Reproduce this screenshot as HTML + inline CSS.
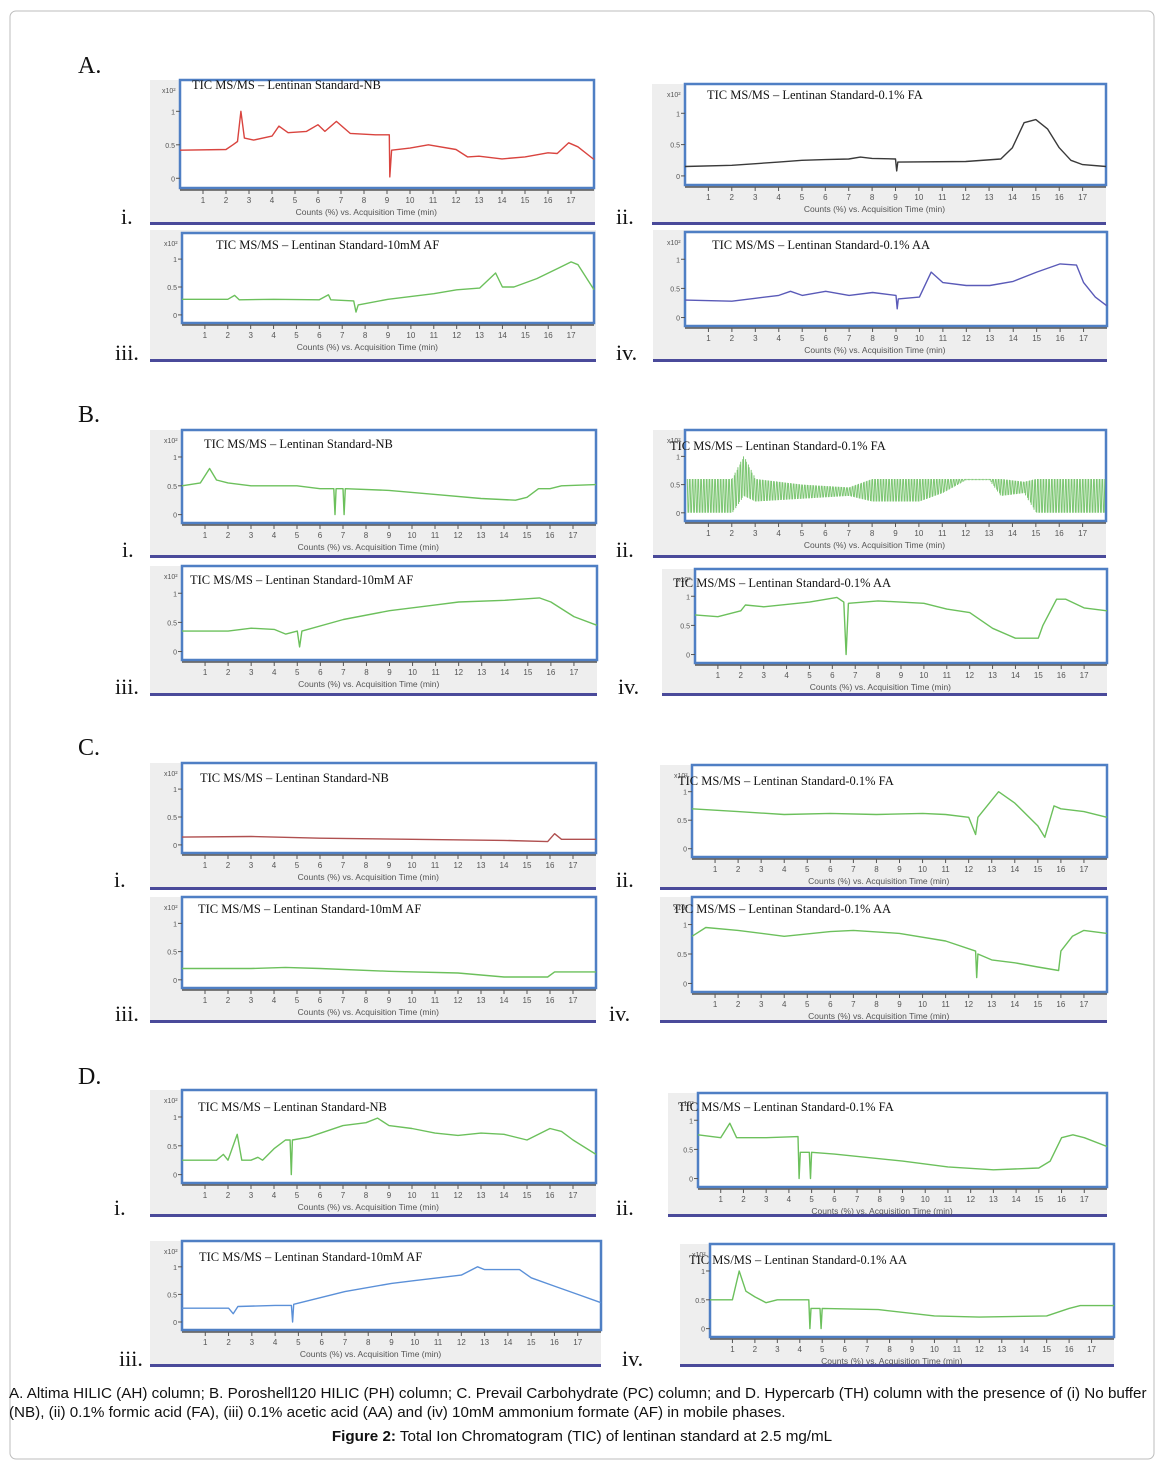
<!DOCTYPE html>
<html><head><meta charset="utf-8">
<style>
body{margin:0;background:#fff;width:1163px;height:1467px;overflow:hidden;font-family:"Liberation Sans",sans-serif}
#fig{position:absolute;left:0;top:0}
</style></head>
<body>
<svg id="fig" width="1163" height="1467">
<rect x="10" y="11" width="1144" height="1448" rx="6" fill="#fff" stroke="#bdbdbd"/>
<g font-family="Liberation Serif, serif" font-size="24" fill="#111">
<text x="78" y="73">A.</text>
<text x="78" y="422">B.</text>
<text x="78" y="755">C.</text>
<text x="78" y="1084">D.</text>
</g>
<g id="panels"></g>
<g font-family="Liberation Sans, sans-serif" font-size="15.2" fill="#111">
<text x="9" y="1398">A. Altima HILIC (AH) column; B. Poroshell120 HILIC (PH) column; C. Prevail Carbohydrate (PC) column; and D. Hypercarb (TH) column with the presence of (i) No buffer</text>
<text x="9" y="1417">(NB), (ii) 0.1% formic acid (FA), (iii) 0.1% acetic acid (AA) and (iv) 10mM ammonium formate (AF) in mobile phases.</text>
<text x="582" y="1441" text-anchor="middle"><tspan font-weight="bold">Figure 2:</tspan> Total Ion Chromatogram (TIC) of lentinan standard at 2.5 mg/mL</text>
</g>
</svg>
<script>
// ---- data: retention time (min) and relative counts (x10^2) ----
const a1T=[0,2,2.3,2.5,2.65,2.8,3.2,4,4.3,4.7,5.5,6,6.3,6.8,7.4,8.5,9.1,9.12,9.2,10,10.8,12,12.5,13,14,15,16,16.4,16.9,17.3,18];
const a1V=[0.42,0.43,0.5,0.55,1.0,0.6,0.57,0.63,0.78,0.68,0.7,0.8,0.7,0.85,0.67,0.65,0.65,0.02,0.42,0.45,0.5,0.43,0.32,0.33,0.29,0.32,0.38,0.37,0.53,0.47,0.28];
const a2T=[0,2,4,5,6,7,7.5,8,9,9.05,9.1,12,13.5,14,14.5,15,15.5,16,16.5,17,18];
const a2V=[0.15,0.17,0.22,0.25,0.26,0.27,0.3,0.28,0.27,0.08,0.22,0.23,0.27,0.45,0.85,0.9,0.75,0.45,0.25,0.18,0.15];
const a3T=[0,2,2.3,2.5,4,6,6.4,6.5,7.5,7.6,7.7,9,11,12,13,13.7,14,14.5,15.5,16.5,17,17.3,18];
const a3V=[0.28,0.28,0.35,0.27,0.28,0.27,0.36,0.27,0.25,0.05,0.18,0.28,0.38,0.45,0.48,0.75,0.5,0.5,0.65,0.85,0.95,0.9,0.45];
const a4T=[0,2,3,4,4.5,5,6,7,8,9,9.05,9.1,10,10.5,11,12,13,14,15,16,16.7,17,17.5,18];
const a4V=[0.3,0.28,0.33,0.38,0.45,0.38,0.45,0.38,0.43,0.38,0.15,0.32,0.35,0.78,0.6,0.55,0.55,0.62,0.78,0.92,0.9,0.6,0.35,0.2];
const b1T=[0,0.8,1.2,1.5,2,3,5,6,6.6,6.65,6.7,7,7.05,7.1,9,11,13,14.5,15,15.5,16,16.5,18];
const b1V=[0.5,0.55,0.8,0.6,0.55,0.5,0.5,0.45,0.45,0,0.45,0.45,0,0.45,0.42,0.35,0.28,0.25,0.3,0.45,0.45,0.5,0.52];
const b2T=[0,2,2.5,3,5,7,8,10,11,12,13,13.5,14.5,15,18];
const b2Lo=[0,0,0.3,0.2,0.25,0.3,0.2,0.2,0.35,0.58,0.58,0.3,0.35,0,0];
const b2Hi=[0.6,0.6,1.0,0.6,0.5,0.45,0.6,0.6,0.6,0.6,0.6,0.6,0.55,0.6,0.6];
const b3T=[0,2,3,4,4.5,5,5.1,5.2,7,9,11,12,14,15.5,16,17,18];
const b3V=[0.35,0.35,0.4,0.38,0.3,0.35,0.08,0.35,0.55,0.7,0.8,0.85,0.88,0.92,0.85,0.6,0.45];
const b4T=[0,1,2,2.2,3,5,6.2,6.5,6.6,6.7,8,10,11,12,13,14,15,15.2,15.8,16.2,17,18];
const b4V=[0.68,0.65,0.75,0.85,0.82,0.9,0.98,0.9,0,0.88,0.92,0.88,0.78,0.72,0.45,0.28,0.28,0.5,0.95,0.95,0.8,0.75];
const c1T=[0,3,6,10,14,15.9,16.2,16.5,18];
const c1V=[0.14,0.15,0.12,0.1,0.08,0.06,0.2,0.1,0.1];
const c2T=[0,2,4,6,8,10,11,12,12.3,12.4,13,13.3,14,15,15.3,15.7,16,17,18];
const c2V=[0.7,0.65,0.6,0.62,0.6,0.62,0.6,0.55,0.25,0.55,0.85,1.0,0.8,0.4,0.2,0.75,0.7,0.65,0.55];
const c3T=[0,3,4.5,6,9,12,14,15.9,16.2,18];
const c3V=[0.2,0.2,0.22,0.2,0.15,0.12,0.05,0.05,0.14,0.14];
const c4T=[0,0.6,2,4,6,7,9,11,12.3,12.35,12.4,13,14,15,15.9,16,16.5,17,18];
const c4V=[0.8,0.95,0.9,0.8,0.88,0.9,0.85,0.72,0.55,0.1,0.5,0.4,0.35,0.28,0.22,0.55,0.8,0.9,0.85];
const d1T=[0,1.5,1.8,2,2.4,2.6,3,3.3,3.5,4,4.5,4.7,4.75,4.8,5.5,7,8,8.5,9,10,11,12,13,14,15,16,16.5,17,18];
const d1V=[0.25,0.25,0.35,0.25,0.7,0.25,0.25,0.3,0.25,0.45,0.6,0.6,0,0.6,0.65,0.85,0.9,0.98,0.85,0.8,0.72,0.68,0.72,0.7,0.6,0.8,0.75,0.6,0.35];
const d2T=[0,1,1.4,1.7,3,4.4,4.45,4.5,4.9,4.95,5,6,9,11,13,15,15.5,16,16.5,17,18];
const d2V=[0.75,0.7,0.95,0.7,0.7,0.72,0,0.45,0.45,0,0.45,0.42,0.3,0.2,0.15,0.18,0.3,0.7,0.75,0.7,0.55];
const d3T=[0,2,2.2,2.4,4,4.7,4.75,4.8,7,9,10,11,12,12.7,13,14.5,15,16,17,18];
const d3V=[0.25,0.25,0.15,0.28,0.3,0.3,0,0.32,0.55,0.7,0.75,0.8,0.85,1.0,0.95,0.95,0.8,0.65,0.5,0.35];
const d4T=[0,1,1.3,1.6,2,2.5,3,4.4,4.45,4.5,4.9,4.95,5,7.5,10,12,15,16,16.5,18];
const d4V=[0.5,0.5,1.0,0.65,0.55,0.45,0.5,0.5,0,0.35,0.35,0,0.35,0.33,0.22,0.2,0.22,0.35,0.4,0.4];
const xTicks=[1,2,3,4,5,6,7,8,9,10,11,12,13,14,15,16,17];
const yTicks=[0,0.5,1];
const yTickLabels=["0","0.5","1"];

const panels=[
 {id:'a-i',o:[150,80,445,145],f:[180,80,414,108],c:'#d9443f',t:'TIC MS/MS \u2013 Lentinan Standard-NB',tx:192,ty:89,lab:'i.',lx:121,ly:224,T:a1T,V:a1V},
 {id:'a-ii',o:[652,84,454,141],f:[685,84,421,101],c:'#3a3a3a',t:'TIC MS/MS \u2013 Lentinan Standard-0.1% FA',tx:707,ty:99,lab:'ii.',lx:616,ly:224,T:a2T,V:a2V},
 {id:'a-iii',o:[150,230,446,132],f:[182,233,412,90],c:'#6cc05c',t:'TIC MS/MS \u2013 Lentinan Standard-10mM AF',tx:216,ty:249,lab:'iii.',lx:115,ly:360,T:a3T,V:a3V},
 {id:'a-iv',o:[653,230,454,132],f:[685,232,422,94],c:'#5a5ab8',t:'TIC MS/MS \u2013 Lentinan Standard-0.1% AA',tx:712,ty:249,lab:'iv.',lx:616,ly:360,T:a4T,V:a4V},
 {id:'b-i',o:[150,430,446,128],f:[182,430,414,93],c:'#6cc05c',t:'TIC MS/MS \u2013 Lentinan Standard-NB',tx:204,ty:448,lab:'i.',lx:122,ly:557,T:b1T,V:b1V},
 {id:'b-ii',o:[653,430,453,128],f:[685,430,421,91],c:'#5cb850',t:'TIC MS/MS \u2013 Lentinan Standard-0.1% FA',tx:670,ty:450,lab:'ii.',lx:616,ly:557,T:b2T,V:null},
 {id:'b-iii',o:[150,566,447,130],f:[182,566,415,94],c:'#6cc05c',t:'TIC MS/MS \u2013 Lentinan Standard-10mM AF',tx:190,ty:584,lab:'iii.',lx:115,ly:694,T:b3T,V:b3V},
 {id:'b-iv',o:[662,569,445,127],f:[695,569,412,94],c:'#6cc05c',t:'TIC MS/MS \u2013 Lentinan Standard-0.1% AA',tx:673,ty:587,lab:'iv.',lx:618,ly:694,T:b4T,V:b4V},
 {id:'c-i',o:[150,763,446,127],f:[182,763,414,90],c:'#b05050',t:'TIC MS/MS \u2013 Lentinan Standard-NB',tx:200,ty:782,lab:'i.',lx:114,ly:887,T:c1T,V:c1V},
 {id:'c-ii',o:[660,765,447,125],f:[692,765,415,92],c:'#6cc05c',t:'TIC MS/MS \u2013 Lentinan Standard-0.1% FA',tx:678,ty:785,lab:'ii.',lx:616,ly:887,T:c2T,V:c2V},
 {id:'c-iii',o:[150,897,446,126],f:[182,897,414,91],c:'#6cc05c',t:'TIC MS/MS \u2013 Lentinan Standard-10mM AF',tx:198,ty:913,lab:'iii.',lx:115,ly:1021,T:c3T,V:c3V},
 {id:'c-iv',o:[660,897,447,126],f:[692,897,415,95],c:'#6cc05c',t:'TIC MS/MS \u2013 Lentinan Standard-0.1% AA',tx:673,ty:913,lab:'iv.',lx:609,ly:1021,T:c4T,V:c4V},
 {id:'d-i',o:[150,1090,446,127],f:[182,1090,414,93],c:'#6cc05c',t:'TIC MS/MS \u2013 Lentinan Standard-NB',tx:198,ty:1111,lab:'i.',lx:114,ly:1215,T:d1T,V:d1V},
 {id:'d-ii',o:[668,1093,439,124],f:[698,1093,409,94],c:'#6cc05c',t:'TIC MS/MS \u2013 Lentinan Standard-0.1% FA',tx:678,ty:1111,lab:'ii.',lx:616,ly:1215,T:d2T,V:d2V},
 {id:'d-iii',o:[150,1241,451,126],f:[182,1241,419,89],c:'#5b90d8',t:'TIC MS/MS \u2013 Lentinan Standard-10mM AF',tx:199,ty:1261,lab:'iii.',lx:119,ly:1366,T:d3T,V:d3V},
 {id:'d-iv',o:[680,1244,434,123],f:[710,1244,404,93],c:'#6cc05c',t:'TIC MS/MS \u2013 Lentinan Standard-0.1% AA',tx:689,ty:1264,lab:'iv.',lx:622,ly:1366,T:d4T,V:d4V}
];
const NS='http://www.w3.org/2000/svg';
const root=document.getElementById('panels');
function mk(tag,attrs,parent){const e=document.createElementNS(NS,tag);for(const k in attrs)e.setAttribute(k,attrs[k]);parent.appendChild(e);return e;}
function interp(T,V,t){for(let i=1;i<T.length;i++){if(t<=T[i]){const r=(t-T[i-1])/(T[i]-T[i-1]);return V[i-1]+r*(V[i]-V[i-1]);}}return V[V.length-1];}
panels.forEach(p=>{
 const g=mk('g',{},root);
 
 
 const [ox,oy,ow,oh]=p.o,[fx,fy,fw,fh]=p.f;
 const bg=mk('rect',{x:ox,y:oy,width:ow,height:oh,fill:'#eeeeee'},g);
 
 
 mk('rect',{x:ox,y:oy+oh-3,width:ow,height:3,fill:'#4a4a9a'},g);
 mk('rect',{x:fx,y:fy,width:fw,height:fh,fill:'#fff',stroke:'#4f7fc4','stroke-width':2.5},g);
 const xs=t=>fx+t/18*fw, ys=v=>fy+fh*0.91-v*fh*0.62;
 const ax=mk('line',{x1:fx,x2:fx+fw,y1:fy+fh+2,y2:fy+fh+2,stroke:'#555','stroke-width':1.5},g);
 
 
 xTicks.forEach(t=>{
  mk('line',{x1:xs(t),x2:xs(t),y1:fy+fh+2,y2:fy+fh+6,stroke:'#555'},g);
  const tl=mk('text',{x:xs(t),y:fy+fh+15,'font-size':8,'text-anchor':'middle',fill:'#555','font-family':'Liberation Sans Narrow, Liberation Sans, sans-serif'},g);
  tl.textContent=t;
  
  
 });
 yTicks.forEach((v,i)=>{
  mk('line',{x1:fx-4,x2:fx,y1:ys(v),y2:ys(v),stroke:'#555'},g);
  const yl=mk('text',{x:fx-5,y:ys(v)+3,'font-size':7,'text-anchor':'end',fill:'#555'},g);
  yl.textContent=yTickLabels[i];
  
  
 });
 const ym=mk('text',{x:fx-18,y:fy+13,'font-size':7,fill:'#555'},g);
 ym.textContent='x10\u00B2';
 
 
 const xl=mk('text',{x:fx+fw*0.45,y:fy+fh+27,'font-size':8.5,'text-anchor':'middle',fill:'#555','font-family':'Liberation Sans Narrow, Liberation Sans, sans-serif'},g);
 xl.textContent='Counts (%) vs. Acquisition Time (min)';
 
 
 if(p.V){
  const d=p.T.map((t,i)=>(i?'L':'M')+xs(t).toFixed(1)+','+ys(p.V[i]).toFixed(1)).join('');
  const ln=mk('path',{d:d,fill:'none',stroke:p.c,'stroke-width':1.4,'stroke-linejoin':'round'},g);
  
  
 } else {
  let d='';let k=0;
  for(let t=0.1;t<=17.95;t+=0.06){const lo=interp(p.T,b2Lo,t),hi=interp(p.T,b2Hi,t);
   d+='M'+xs(t).toFixed(1)+','+ys(k%2?lo:hi).toFixed(1)+'L'+xs(t+0.03).toFixed(1)+','+ys(k%2?hi:lo).toFixed(1);k++;}
  const ln=mk('path',{d:d,fill:'none',stroke:p.c,'stroke-width':1,'stroke-opacity':0.8},g);
  
  
 }
 const tt=mk('text',{x:p.tx,y:p.ty,'font-size':12.5,fill:'#111','font-family':'Liberation Serif, serif'},g);
 tt.textContent=p.t;
 
 
 const lb=mk('text',{x:p.lx,y:p.ly,'font-size':22,fill:'#111','font-family':'Liberation Serif, serif'},g);
 lb.textContent=p.lab;
 
 
});
</script>
</body></html>
